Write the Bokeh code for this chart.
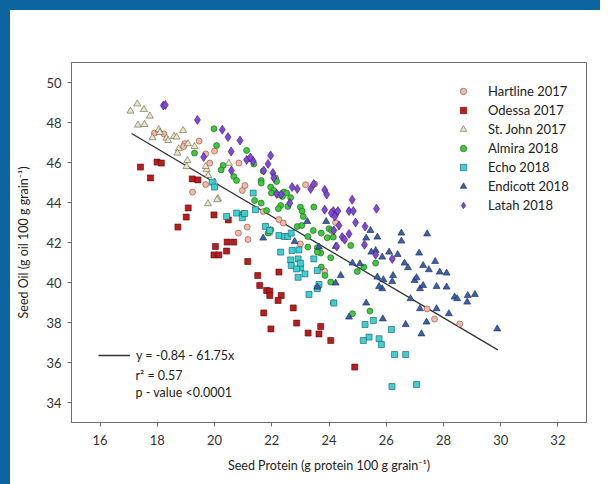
from bokeh.plotting import figure
from bokeh.models import Legend, LegendItem, Label, Div, FixedTicker
from bokeh.layouts import column, row
from bokeh.embed import file_html
from bokeh.resources import INLINE

# ---------------- data ----------------
hartline_x = [17.90, 18.23, 18.96, 18.92, 19.46, 20.00, 19.69, 19.83, 20.85, 20.97, 19.23, 19.69, 20.83,
              21.14, 21.06, 21.70, 22.25, 22.40, 21.17, 23.00, 23.18, 23.50, 24.23, 23.85, 27.43, 27.69, 28.57]
hartline_y = [47.47, 47.43, 46.94, 46.80, 47.07, 46.57, 46.43, 45.97, 45.97, 44.60, 44.52, 44.90, 42.47,
              42.77, 44.85, 43.55, 43.15, 42.97, 42.15, 41.93, 44.89, 44.93, 43.00, 40.57, 38.68, 38.17, 37.93]

odessa_x = [17.41, 17.76, 17.99, 18.14, 19.22, 19.42, 19.08, 19.01, 18.72, 19.98, 20.48, 20.03, 19.98, 20.15,
            20.44, 20.67, 20.42, 21.16, 22.25, 21.51, 21.58, 21.82, 21.93, 21.93, 22.33, 22.22, 21.72, 22.87,
            21.97, 23.27, 23.65, 23.71, 24.06, 22.75, 24.90]
odessa_y = [45.77, 45.23, 46.02, 45.97, 45.18, 45.13, 43.73, 43.27, 42.77, 43.38, 43.13, 41.80, 41.38, 41.38,
            42.02, 42.02, 41.57, 41.05, 40.52, 40.35, 39.85, 39.60, 39.57, 39.35, 39.35, 39.10, 38.48, 37.97,
            37.68, 37.47, 37.43, 37.80, 37.10, 38.73, 35.77]

stjohn_x = [17.06, 17.30, 17.53, 17.74, 17.32, 17.55, 18.05, 18.09, 17.83, 18.32, 18.38, 18.58, 18.67, 18.75,
            18.70, 19.07, 19.05, 19.02, 19.72, 19.78, 20.00, 20.12, 19.77, 20.50, 19.69, 20.09, 21.90, 18.90,
            19.30]
stjohn_y = [48.57, 48.93, 48.65, 48.32, 47.87, 47.90, 47.64, 47.50, 47.24, 47.22, 47.10, 47.30, 47.27, 46.69,
            46.47, 46.94, 46.10, 45.80, 45.64, 45.35, 45.02, 44.19, 43.94, 45.96, 45.80, 44.14, 42.47, 47.60,
            46.80]

almira_x = [20.07, 21.12, 20.30, 20.23, 20.67, 20.77, 21.23, 21.37, 21.70, 21.63, 21.63, 21.96, 22.07, 22.13,
            22.17, 21.99, 22.42, 22.52, 22.37, 22.23, 22.66, 21.40, 21.63, 22.31, 22.23, 22.56, 21.82, 21.00,
            23.00, 23.06, 23.10, 23.47, 21.96, 21.87, 22.89, 23.05, 23.45, 23.73, 24.00, 24.09, 24.15, 23.26,
            23.26, 23.71, 24.06, 23.59, 24.76, 23.73, 23.86, 24.06, 24.99, 25.22, 25.63, 24.15, 24.82, 25.43,
            19.98, 19.30, 20.97, 23.94, 23.59]
almira_y = [46.85, 46.60, 45.85, 45.63, 45.30, 45.10, 46.18, 45.93, 45.57, 45.10, 44.97, 44.77, 44.60, 45.23,
            45.05, 44.47, 44.52, 44.47, 44.30, 44.39, 44.24, 44.10, 43.97, 43.85, 43.69, 43.80, 43.60, 43.44,
            43.77, 43.57, 43.30, 43.77, 42.64, 42.47, 42.80, 42.85, 42.60, 42.47, 42.69, 42.60, 42.27, 42.30,
            41.77, 41.47, 41.24, 41.74, 41.85, 40.77, 40.35, 40.02, 40.55, 40.77, 40.97, 38.99, 38.44, 38.57,
            47.69, 46.47, 43.40, 42.24, 41.52]

echo_x = [19.92, 20.00, 21.35, 21.43, 20.77, 20.42, 20.97, 21.05, 21.78, 21.93, 22.25, 22.45, 22.56, 22.68,
          22.71, 22.95, 23.47, 22.66, 22.92, 22.68, 23.00, 22.87, 23.00, 22.92, 23.16, 23.59, 23.30, 23.65,
          23.59, 24.17, 25.26, 25.55, 25.40, 25.75, 26.18, 25.83, 26.29, 26.68, 25.20, 26.20, 27.06, 22.31]
echo_y = [45.02, 44.77, 44.47, 43.64, 43.47, 43.30, 43.24, 43.45, 42.80, 42.60, 42.35, 42.30, 42.30, 42.47,
          41.60, 41.63, 41.18, 41.13, 41.18, 40.85, 40.73, 40.68, 40.96, 40.26, 40.43, 40.60, 39.40, 39.90,
          39.69, 38.97, 37.90, 38.10, 37.27, 37.19, 37.65, 36.90, 36.40, 36.40, 37.10, 34.80, 34.90, 41.52]

endicott_x = [23.24, 23.90, 21.70, 22.80, 23.65, 25.45, 25.30, 25.63, 26.10, 26.40, 25.86, 24.82, 25.69, 25.90,
              26.21, 26.24, 25.86, 24.41, 24.23, 23.59, 25.30, 25.88, 24.70, 24.23, 25.69, 26.53, 26.53, 27.43,
              25.48, 27.15, 27.71, 26.64, 26.76, 27.29, 27.49, 27.87, 28.11, 25.08, 25.75, 26.99, 27.06, 27.18,
              27.29, 27.76, 28.11, 26.85, 28.39, 28.48, 28.85, 28.83, 27.18, 27.76, 28.19, 26.68, 27.41, 27.23,
              29.88, 29.10]
endicott_y = [43.05, 43.05, 42.22, 42.05, 41.77, 42.60, 42.22, 41.60, 41.52, 41.40, 41.27, 40.97, 40.27, 40.14,
              40.05, 40.35, 39.69, 40.35, 39.97, 39.77, 38.97, 38.18, 38.27, 41.80, 42.27, 42.47, 42.07, 42.43,
              41.52, 41.47, 41.05, 40.97, 40.74, 40.85, 40.64, 40.52, 40.47, 40.94, 39.80, 40.10, 40.24, 39.69,
              39.85, 39.80, 39.77, 39.19, 39.27, 39.19, 39.35, 39.02, 38.69, 38.69, 38.44, 37.90, 38.02, 37.43,
              37.68, 39.40]

latah_x = [18.21, 18.28, 19.40, 20.27, 20.47, 20.89, 20.58, 21.12, 19.62, 20.59, 21.35, 21.25, 21.96, 21.87,
           21.72, 22.04, 22.07, 22.17, 22.33, 22.71, 22.89, 23.36, 23.47, 23.85, 23.92, 24.81, 23.85, 24.15,
           24.23, 24.08, 24.31, 24.70, 24.85, 25.66, 24.93, 24.17, 24.35, 24.46, 24.55, 24.27, 25.26, 25.24,
           25.63, 26.21, 22.63, 24.70, 24.20]
latah_y = [48.85, 48.88, 48.13, 47.64, 47.27, 47.10, 46.55, 46.13, 46.27, 45.60, 46.07, 46.25, 46.35, 45.93,
           45.60, 45.48, 45.23, 44.43, 44.40, 44.77, 44.68, 44.68, 44.93, 44.63, 44.40, 44.14, 43.64, 43.57,
           43.40, 43.47, 43.57, 43.57, 43.57, 43.69, 43.00, 42.60, 42.85, 42.27, 42.14, 41.80, 42.80, 41.89,
           41.39, 41.18, 43.97, 42.43, 43.30]

fit_x = [17.1, 29.9]
fit_y = [47.45, 36.63]

x_ticks = [16, 18, 20, 22, 24, 26, 28, 30, 32]
y_ticks = [34, 36, 38, 40, 42, 44, 46, 48, 50]

FONT = "Lato"

p = figure(frame_width=515, frame_height=360, x_range=(15, 33), y_range=(33, 51),
           output_backend="svg", toolbar_location=None,
           min_border_left=61, min_border_right=14, min_border_top=52, min_border_bottom=56,
           background_fill_color="white", border_fill_color="white")

p.xgrid.visible = False
p.ygrid.visible = False
p.outline_line_color = "#6e6e6e"
p.outline_line_width = 1

for ax in (p.xaxis, p.yaxis):
    ax.axis_line_color = "#6e6e6e"
    ax.major_tick_line_color = "#6e6e6e"
    ax.major_tick_in = 0
    ax.major_tick_out = 4
    ax.minor_tick_line_color = None
    ax.major_label_text_font = FONT
    ax.major_label_text_font_size = "13px"
    ax.major_label_text_color = "#333333"
    ax.axis_label_text_font = FONT
    ax.axis_label_text_font_size = "12.5px"
    ax.axis_label_text_font_style = "normal"
    ax.axis_label_text_color = "#222222"

p.xaxis.ticker = FixedTicker(ticks=x_ticks)
p.yaxis.ticker = FixedTicker(ticks=y_ticks)
p.xaxis.major_label_standoff = 8
p.yaxis.major_label_standoff = 6
p.xaxis.axis_label_standoff = 10
p.yaxis.axis_label_standoff = 12
p.xaxis.axis_label = "Seed Protein (g protein 100 g grain\u207b\u00b9)"
p.yaxis.axis_label = "Seed Oil (g oil 100 g grain\u207b\u00b9)"

line_r = p.line(fit_x, fit_y, line_color="#333333", line_width=1.3)

series = [
    ("Hartline 2017", hartline_x, hartline_y, "circle", 6, "#f2b9a8", "#8a4a3a"),
    ("Odessa 2017", odessa_x, odessa_y, "square", 6, "#b81d1d", "#5a0a0a"),
    ("St. John 2017", stjohn_x, stjohn_y, "triangle", 7, "#ede6c2", "#5e5e50"),
    ("Almira 2018", almira_x, almira_y, "circle", 6, "#3ec83e", "#1b5a1b"),
    ("Echo 2018", echo_x, echo_y, "square", 6, "#3dd0d2", "#1b5566"),
    ("Endicott 2018", endicott_x, endicott_y, "triangle", 7, "#3b5fa8", "#1a2a5a"),
    ("Latah 2018", latah_x, latah_y, "diamond", 9, "#8048d8", "#3a1a6a"),
]

items = []
for name, xs, ys, mk, sz, fc, lc in series:
    r = p.scatter(xs, ys, marker=mk, size=sz, fill_color=fc, line_color=lc, line_width=0.6)
    items.append(LegendItem(label=name, renderers=[r]))

leg = Legend(items=items, location=(382, 209), orientation="vertical",
             glyph_width=20, glyph_height=16, spacing=3, padding=0, label_standoff=15,
             label_text_font=FONT, label_text_font_size="13px", label_text_color="#222222",
             border_line_color=None, background_fill_alpha=0)
p.add_layout(leg, "center")

leg2 = Legend(items=[LegendItem(label="y = -0.84 - 61.75x", renderers=[line_r])],
              location=(27, 59), glyph_width=32, glyph_height=16, padding=0, label_standoff=6,
              label_text_font=FONT, label_text_font_size="12.5px", label_text_color="#222222",
              border_line_color=None, background_fill_alpha=0)
p.add_layout(leg2, "center")

p.add_layout(Label(x=64, y=47, x_units="screen", y_units="screen", text="r\u00b2 = 0.57",
                   text_font=FONT, text_font_size="12.5px", text_color="#222222", text_baseline="middle"))
p.add_layout(Label(x=64, y=30, x_units="screen", y_units="screen", text="p - value <0.0001",
                   text_font=FONT, text_font_size="12.5px", text_color="#222222", text_baseline="middle"))

BLUE = "#0c64a0"
top_bar = Div(text="", width=600, height=10, margin=0, styles={"background-color": BLUE})
left_bar = Div(text="", width=10, height=474, margin=0, styles={"background-color": BLUE})
layout = column(top_bar, row(left_bar, p, spacing=0), spacing=0)

open("out.html", "w").write(file_html(layout, INLINE))
